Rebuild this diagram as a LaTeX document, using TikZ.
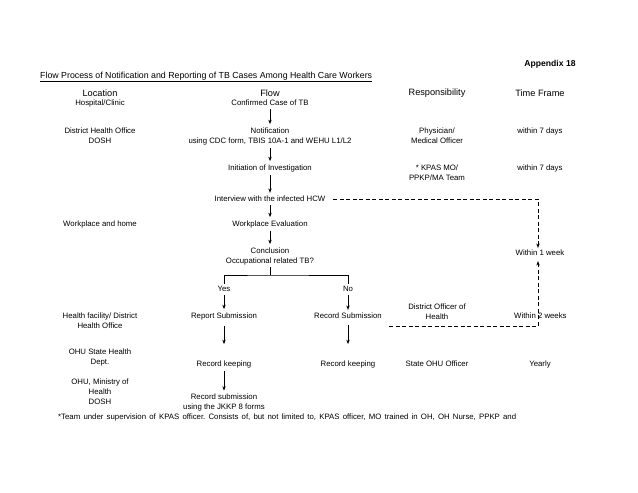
\documentclass[tikz,border=0pt]{standalone}
\usepackage{fontspec}
\setmainfont{Liberation Sans}
\usetikzlibrary{arrows.meta}
\frenchspacing

\begin{document}
\begin{tikzpicture}[x=1pt, y=-1pt,
		txt/.style = {font=\fontsize{7.8}{10}\selectfont, align=center, inner sep=2pt},
		head/.style = {font=\fontsize{9.2}{10}\selectfont, inner sep=1pt},
		arr/.style = {-{Stealth[length=4.5pt, width=3.4pt]}, line width=0.8pt, shorten <=1pt, shorten >=1pt},
		link/.style = {line width=0.8pt},
		dashline/.style = {line width=0.8pt, dash pattern=on 4pt off 2.5pt}]
		\useasboundingbox (0,0) rectangle (638,493);
		\node[inner sep=1pt, font=\bfseries\fontsize{8.6}{10}\selectfont] (App) at (550,64) {Appendix 18};
		\node[inner sep=1pt, font=\fontsize{8.8}{10}\selectfont, anchor=west] (Title) at (39,77) {\underline{Flow Process of Notification and Reporting of TB Cases Among Health Care Workers}};
		\node[head] (HLoc) at (100,93) {Location};
		\node[head] (HFlow) at (270,93) {Flow};
		\node[head] (HResp) at (437,93) {Responsibility};
		\node[head] (HTime) at (540,93) {Time Frame};
		\node[txt] (LHosp) at (100,103) {Hospital/Clinic};
		\node[txt] (LDist) at (100,136) {District Health Office\\DOSH};
		\node[txt] (LWork) at (100,224) {Workplace and home};
		\node[txt] (LFac) at (100,321) {Health facility/ District\\Health Office};
		\node[txt] (LState) at (100,357.5) {OHU State Health\\Dept.};
		\node[txt] (LMin) at (100,392) {OHU, Ministry of\\Health\\DOSH};
		\node[txt] (Conf) at (270,103) {Confirmed Case of TB};
		\node[txt] (Notif) at (270,136) {Notification\\using CDC form, TBIS 10A-1 and WEHU L1/L2};
		\node[txt] (Init) at (270,168) {Initiation of Investigation};
		\node[txt] (Intv) at (270,199) {Interview with the infected HCW};
		\node[txt] (Eval) at (270,224) {Workplace Evaluation};
		\node[txt] (Concl) at (270,256) {Conclusion\\Occupational related TB?};
		\node[txt] (Yes) at (224,289) {Yes};
		\node[txt] (No) at (348,289) {No};
		\node[txt] (Rep) at (224,316) {Report Submission};
		\node[txt] (RSub) at (348,316) {Record Submission};
		\node[txt] (KeepA) at (224,364) {Record keeping};
		\node[txt] (KeepB) at (348,364) {Record keeping};
		\node[txt] (Final) at (224,402.5) {Record submission\\using the JKKP 8 forms};
		\node[txt] (RPhys) at (437,136) {Physician/\\Medical Officer};
		\node[txt] (RTeam) at (437,173) {* KPAS MO/\\PPKP/MA Team};
		\node[txt] (RDist) at (437,311.5) {District Officer of\\Health};
		\node[txt] (RState) at (437,364) {State OHU Officer};
		\node[txt] (T7a) at (540,131) {within 7 days};
		\node[txt] (T7b) at (540,168) {within 7 days};
		\node[txt] (Wk1) at (540,253) {Within 1 week};
		\node[txt] (Wk2) at (540.4,316) {Within 2 weeks};
		\node[txt] (TYear) at (540,364) {Yearly};
		\node[txt, anchor=west] (Foot) at (56,417) {\makebox[458pt][s]{*Team under supervision of KPAS officer. Consists of, but not limited to, KPAS officer, MO trained in OH, OH Nurse, PPKP and}};
		\coordinate (Br) at (270,275);
		\coordinate (C1) at (538,199);
		\coordinate (C2) at (538,326);
		\coordinate (C3) at (389,326);
		\draw[arr] (Conf) -- (Notif);
		\draw[arr] (Notif) -- (Init);
		\draw[arr] (Init) -- (Intv);
		\draw[arr] (Intv) -- (Eval);
		\draw[arr] (Eval) -- (Concl);
		\draw[link] (Concl) -- (Br);
		\draw[link] (Yes.north) |- (Br) -| (No.north);
		\draw[arr] (Yes) -- (Rep);
		\draw[arr] (No) -- (RSub);
		\draw[arr, shorten <=4pt, shorten >=14pt] (Rep) -- (KeepA);
		\draw[arr, shorten <=4pt, shorten >=14pt] (RSub) -- (KeepB);
		\draw[arr] (KeepA) -- (Final);
		\draw[dashline, -{Stealth[length=4.5pt, width=3.4pt]}] ([xshift=6pt]Intv.east) -- (C1) -- (C1 |- Wk1.north);
		\draw[dashline, -{Stealth[length=4.5pt, width=3.4pt]}, shorten >=3pt] (C3) -- (C2) -- (C2 |- Wk1.south);
	\end{tikzpicture}
\end{document}
